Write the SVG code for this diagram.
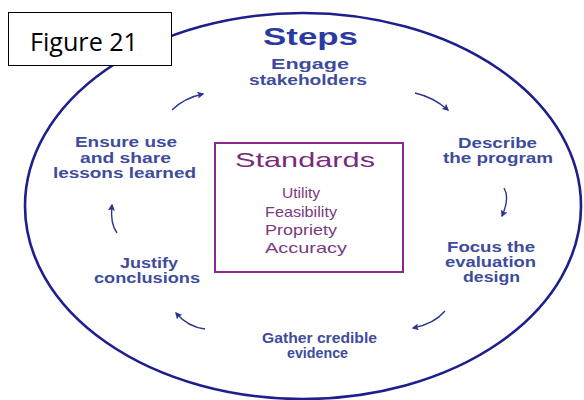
<svg xmlns="http://www.w3.org/2000/svg" width="584" height="400" viewBox="0 0 584 400">
  <defs>
    <marker id="head" viewBox="0 0 10 10" refX="8" refY="5" markerWidth="5" markerHeight="5" orient="auto" markerUnits="strokeWidth">
      <path d="M0,0 L10,5 L0,10 L2,5 Z" fill="#2a3590"/>
    </marker>
    <style>
      .step { font-family: "Liberation Sans", Arial, sans-serif; font-weight: bold; font-size: 14px; fill: #3e4c9c; }
      .title { font-family: "Liberation Sans", Arial, sans-serif; font-weight: bold; font-size: 24px; fill: #2a3aa0; }
      .std-title { font-family: "Liberation Sans", Arial, sans-serif; font-size: 21px; fill: #7a2a7c; }
      .std { font-family: "Liberation Sans", Arial, sans-serif; font-size: 14.5px; fill: #7a3a7e; }
      .conn { fill: none; stroke: #2a3590; stroke-width: 1.4; marker-end: url(#head); }
    </style>
  </defs>

  <rect width="584" height="400" fill="#ffffff"/>

  <!-- outer cycle ring -->
  <ellipse cx="303" cy="206" rx="278" ry="193" fill="none" stroke="#1c1f8c" stroke-width="2.6"/>

  <!-- heading -->
  <text class="title" x="263" y="45" textLength="95" lengthAdjust="spacingAndGlyphs">Steps</text>

  <!-- step nodes -->
  <g id="engage">
    <text class="step" x="271" y="69" textLength="78" lengthAdjust="spacingAndGlyphs">Engage</text>
    <text class="step" x="249" y="85" textLength="118" lengthAdjust="spacingAndGlyphs">stakeholders</text>
  </g>
  <g id="describe">
    <text class="step" x="458" y="148" textLength="79" lengthAdjust="spacingAndGlyphs">Describe</text>
    <text class="step" x="443" y="163" textLength="110" lengthAdjust="spacingAndGlyphs">the program</text>
  </g>
  <g id="focus">
    <text class="step" x="447" y="252" textLength="88" lengthAdjust="spacingAndGlyphs">Focus the</text>
    <text class="step" x="445" y="267" textLength="91" lengthAdjust="spacingAndGlyphs">evaluation</text>
    <text class="step" x="463" y="282" textLength="57" lengthAdjust="spacingAndGlyphs">design</text>
  </g>
  <g id="gather">
    <text class="step" x="262" y="343" textLength="115" lengthAdjust="spacingAndGlyphs">Gather credible</text>
    <text class="step" x="287" y="358" textLength="61" lengthAdjust="spacingAndGlyphs">evidence</text>
  </g>
  <g id="justify">
    <text class="step" x="120" y="268" textLength="58" lengthAdjust="spacingAndGlyphs">Justify</text>
    <text class="step" x="94" y="283" textLength="106" lengthAdjust="spacingAndGlyphs">conclusions</text>
  </g>
  <g id="ensure">
    <text class="step" x="75" y="147" textLength="102" lengthAdjust="spacingAndGlyphs">Ensure use</text>
    <text class="step" x="80" y="163" textLength="91" lengthAdjust="spacingAndGlyphs">and share</text>
    <text class="step" x="53" y="178" textLength="143" lengthAdjust="spacingAndGlyphs">lessons learned</text>
  </g>

  <!-- standards box -->
  <g id="standards">
    <rect x="215" y="143" width="188" height="129" fill="#ffffff" stroke="#8a2a8c" stroke-width="2"/>
    <text class="std-title" x="235" y="167" textLength="140" lengthAdjust="spacingAndGlyphs">Standards</text>
    <text class="std" x="282" y="198" textLength="38" lengthAdjust="spacingAndGlyphs">Utility</text>
    <text class="std" x="265" y="217" textLength="72" lengthAdjust="spacingAndGlyphs">Feasibility</text>
    <text class="std" x="265" y="235" textLength="72" lengthAdjust="spacingAndGlyphs">Propriety</text>
    <text class="std" x="265" y="253" textLength="82" lengthAdjust="spacingAndGlyphs">Accuracy</text>
  </g>

  <!-- cycle arrows -->
  <g id="connectors">
    <path class="conn" d="M415,93 Q433,97 448,110"/>
    <path class="conn" d="M504,188 Q510,198 502,216"/>
    <path class="conn" d="M445,311 Q434,324 413,328"/>
    <path class="conn" d="M205,329 Q188,327 176,313"/>
    <path class="conn" d="M117,233 Q110,224 112,205"/>
    <path class="conn" d="M172,110 Q184,98 203,94"/>
  </g>

  <!-- figure caption -->
  <g id="caption">
    <rect x="8.5" y="12.5" width="163" height="53" fill="#ffffff" stroke="#000000" stroke-width="1"/>
    <text x="30" y="51" font-family="'Open Sans', 'Noto Sans', sans-serif" font-size="25" fill="#000000" textLength="108" lengthAdjust="spacingAndGlyphs">Figure 21</text>
  </g>
</svg>
